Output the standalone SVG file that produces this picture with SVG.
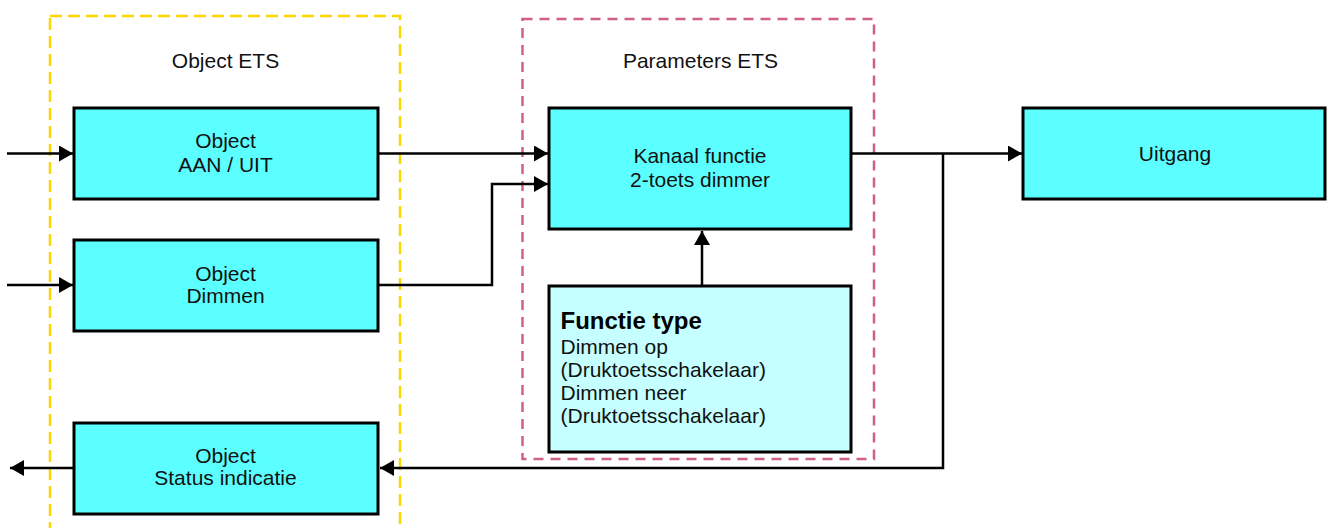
<svg xmlns="http://www.w3.org/2000/svg" width="1329" height="528" viewBox="0 0 1329 528">
<defs>
<marker id="ah" markerUnits="userSpaceOnUse" markerWidth="14" markerHeight="16" refX="14" refY="8" orient="auto">
<path d="M0,0 L14,8 L0,16 Z" fill="#000"/>
</marker>
<style>
.box{fill:#5CFFFF;stroke:#000;stroke-width:3}
.lbox{fill:#C6FFFF;stroke:#000;stroke-width:3}
.t{font-family:"Liberation Sans",Arial,sans-serif;font-size:21px;fill:#111;text-anchor:middle}
.tl{font-family:"Liberation Sans",Arial,sans-serif;font-size:21px;fill:#111}
.tb{font-family:"Liberation Sans",Arial,sans-serif;font-size:24px;font-weight:bold;fill:#000}
.c{fill:none;stroke:#000;stroke-width:2.5}
.ca{fill:none;stroke:#000;stroke-width:2.5;marker-end:url(#ah)}
</style>
</defs>
<g id="group-object-ets">
<rect x="50" y="16" width="350" height="530" fill="none" stroke="#FDD600" stroke-width="2.5" stroke-dasharray="12,6"/>
<text class="t" x="225.5" y="68">Object ETS</text>
</g>
<g id="group-parameters-ets">
<rect x="522.5" y="19" width="351.5" height="440" fill="none" stroke="#D0608A" stroke-width="2.5" stroke-dasharray="10,7"/>
<text class="t" x="700.5" y="68">Parameters ETS</text>
</g>
<g id="connectors">
<line class="ca" x1="7" y1="153.5" x2="73" y2="153.5"/>
<line class="ca" x1="7" y1="285" x2="73" y2="285"/>
<line class="ca" x1="74" y1="468" x2="10" y2="468"/>
<line class="ca" x1="378" y1="153.5" x2="548" y2="153.5"/>
<polyline class="ca" points="378,285 492,285 492,184 548,184"/>
<line class="ca" x1="852" y1="153.5" x2="1022" y2="153.5"/>
<polyline class="ca" points="943,153.5 943,468 380,468"/>
<line class="ca" x1="702" y1="286" x2="702" y2="231"/>
</g>
<g id="node-aan-uit">
<rect class="box" x="74" y="108" width="304" height="91"/>
<text class="t" x="225.5" y="148">Object</text>
<text class="t" x="225.5" y="172">AAN / UIT</text>
</g>
<g id="node-dimmen">
<rect class="box" x="74" y="240" width="304" height="91"/>
<text class="t" x="225.5" y="281">Object</text>
<text class="t" x="225.5" y="303">Dimmen</text>
</g>
<g id="node-status">
<rect class="box" x="74" y="423" width="304" height="91"/>
<text class="t" x="225.5" y="463">Object</text>
<text class="t" x="225.5" y="485">Status indicatie</text>
</g>
<g id="node-kanaal">
<rect class="box" x="549" y="108" width="302" height="121"/>
<text class="t" x="700" y="163">Kanaal functie</text>
<text class="t" x="700" y="187">2-toets dimmer</text>
</g>
<g id="node-functie-type">
<rect class="lbox" x="549" y="286" width="302" height="166"/>
<text class="tb" x="560.5" y="329">Functie type</text>
<text class="tl" x="560.5" y="354">Dimmen op</text>
<text class="tl" x="560.5" y="377">(Druktoetsschakelaar)</text>
<text class="tl" x="560.5" y="400">Dimmen neer</text>
<text class="tl" x="560.5" y="423">(Druktoetsschakelaar)</text>
</g>
<g id="node-uitgang">
<rect class="box" x="1023" y="108" width="302" height="91"/>
<text class="t" x="1175" y="161">Uitgang</text>
</g>
</svg>
